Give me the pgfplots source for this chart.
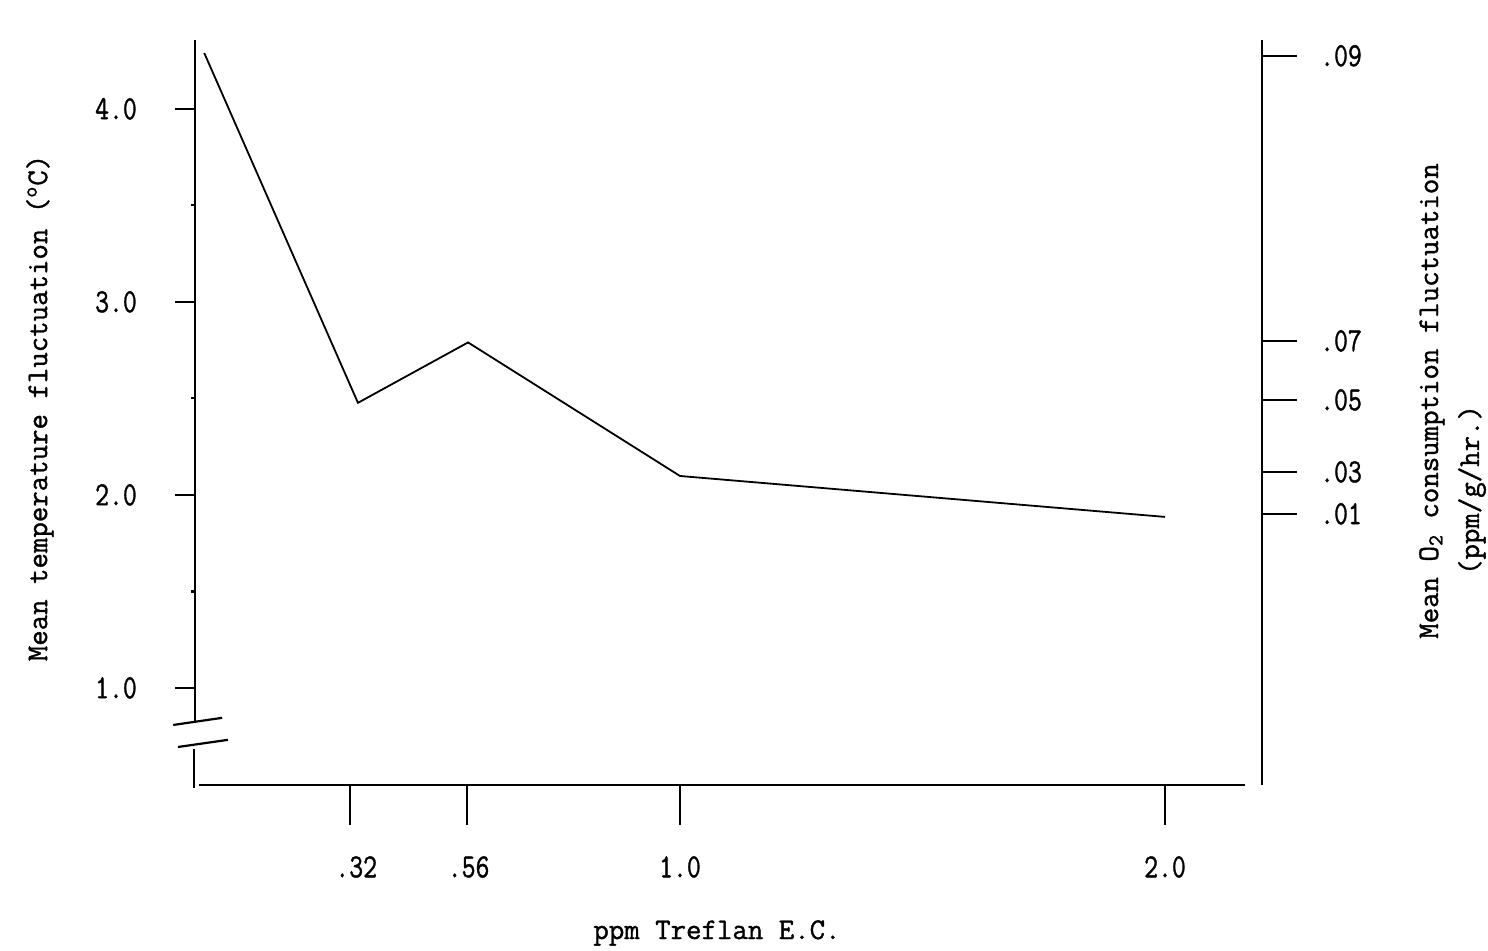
\documentclass[border=0pt]{standalone}
\usepackage{graphicx}
\usepackage{fontspec}
\newfontface\tw{Latin Modern Mono}[FakeBold=1.2]
\usepackage{pgfplots}
\pgfplotsset{compat=1.18}
\newcommand\vs[1]{\scalebox{1}[1.25]{#1}}
\begin{document}
\begin{tikzpicture}
\tikzset{lab/.style={font=\tw\fontsize{15}{18}\selectfont, inner sep=0pt},
         tl/.style={font=\tw\fontsize{13.5}{15}\selectfont, inner sep=0pt},
         ax/.style={line width=1.1pt}}
\useasboundingbox (-97.5pt,-83pt) rectangle (646.5pt,392.5pt);
\begin{axis}[at={(0,0)}, anchor=south west, scale only axis,
  width=533.5pt, height=372.5pt,
  xmin=0, xmax=2.2, ymin=0.497, ymax=4.357,
  hide axis, clip=false]
\addplot[black, line width=0.9pt] coordinates {
  (0.019,4.29) (0.336,2.477) (0.563,2.79) (1.0,2.098) (2.0,1.886)};
% left axis with break
\draw[ax] (axis cs:0,4.357) -- (axis cs:0,0.824);
\draw[ax] (axis cs:-0.045,0.808) -- (axis cs:0.056,0.845);
\draw[ax] (axis cs:-0.035,0.694) -- (axis cs:0.068,0.731);
\draw[ax] (axis cs:-0.002,0.683) -- (axis cs:-0.002,0.482);
% bottom axis
\draw[ax] (axis cs:0.008,0.497) -- (axis cs:2.165,0.497);
% right axis
\draw[ax] (axis cs:2.2,4.357) -- (axis cs:2.2,0.497);
% left ticks
\draw[ax] (axis cs:0,1) -- ++(-10pt,0pt);
\draw[ax] (axis cs:0,2) -- ++(-10pt,0pt);
\draw[ax] (axis cs:0,3) -- ++(-10pt,0pt);
\draw[ax] (axis cs:0,4) -- ++(-10pt,0pt);
\node[tl, xshift=-39.5pt] at (axis cs:0,1) {\vs{1.0}};
\node[tl, xshift=-39.5pt] at (axis cs:0,2) {\vs{2.0}};
\node[tl, xshift=-39.5pt] at (axis cs:0,3) {\vs{3.0}};
\node[tl, xshift=-39.5pt] at (axis cs:0,4) {\vs{4.0}};
\draw[ax] (axis cs:0,1.5) -- ++(-2pt,0pt);
\draw[ax] (axis cs:0,2.5) -- ++(-2pt,0pt);
\draw[ax] (axis cs:0,3.5) -- ++(-2pt,0pt);
% bottom ticks
\draw[ax] (axis cs:0.32,0.497) -- ++(0pt,-20pt);
\draw[ax] (axis cs:0.56,0.497) -- ++(0pt,-20pt);
\draw[ax] (axis cs:1.0,0.497) -- ++(0pt,-20pt);
\draw[ax] (axis cs:2.0,0.497) -- ++(0pt,-20pt);
\node[tl, yshift=-41pt, xshift=3pt] at (axis cs:0.32,0.497) {\vs{.32}};
\node[tl, yshift=-41pt, xshift=1pt] at (axis cs:0.56,0.497) {\vs{.56}};
\node[tl, yshift=-41pt] at (axis cs:1.0,0.497) {\vs{1.0}};
\node[tl, yshift=-41pt] at (axis cs:2.0,0.497) {\vs{2.0}};
% right ticks
\draw[ax] (axis cs:2.2,1.902) -- ++(17.5pt,0pt);
\draw[ax] (axis cs:2.2,2.119) -- ++(17.5pt,0pt);
\draw[ax] (axis cs:2.2,2.492) -- ++(17.5pt,0pt);
\draw[ax] (axis cs:2.2,2.798) -- ++(17.5pt,0pt);
\draw[ax] (axis cs:2.2,4.275) -- ++(17.5pt,0pt);
\node[tl, xshift=39.5pt] at (axis cs:2.2,1.902) {\vs{.01}};
\node[tl, xshift=39.5pt] at (axis cs:2.2,2.119) {\vs{.03}};
\node[tl, xshift=39.5pt] at (axis cs:2.2,2.492) {\vs{.05}};
\node[tl, xshift=39.5pt] at (axis cs:2.2,2.798) {\vs{.07}};
\node[tl, xshift=39.5pt] at (axis cs:2.2,4.275) {\vs{.09}};
\end{axis}
\node[lab, rotate=90] at (-77.5pt,188.5pt) {Mean temperature fluctuation (\textsuperscript{o}C)};
\node[lab, rotate=90] at (618.5pt,192pt) {Mean O\textsubscript{2} consumption fluctuation};
\node[lab, rotate=90] at (638.5pt,147.5pt) {(ppm/g/hr.)};
\node[lab] at (261pt,-74pt) {ppm Treflan E.C.};
\end{tikzpicture}
\end{document}
